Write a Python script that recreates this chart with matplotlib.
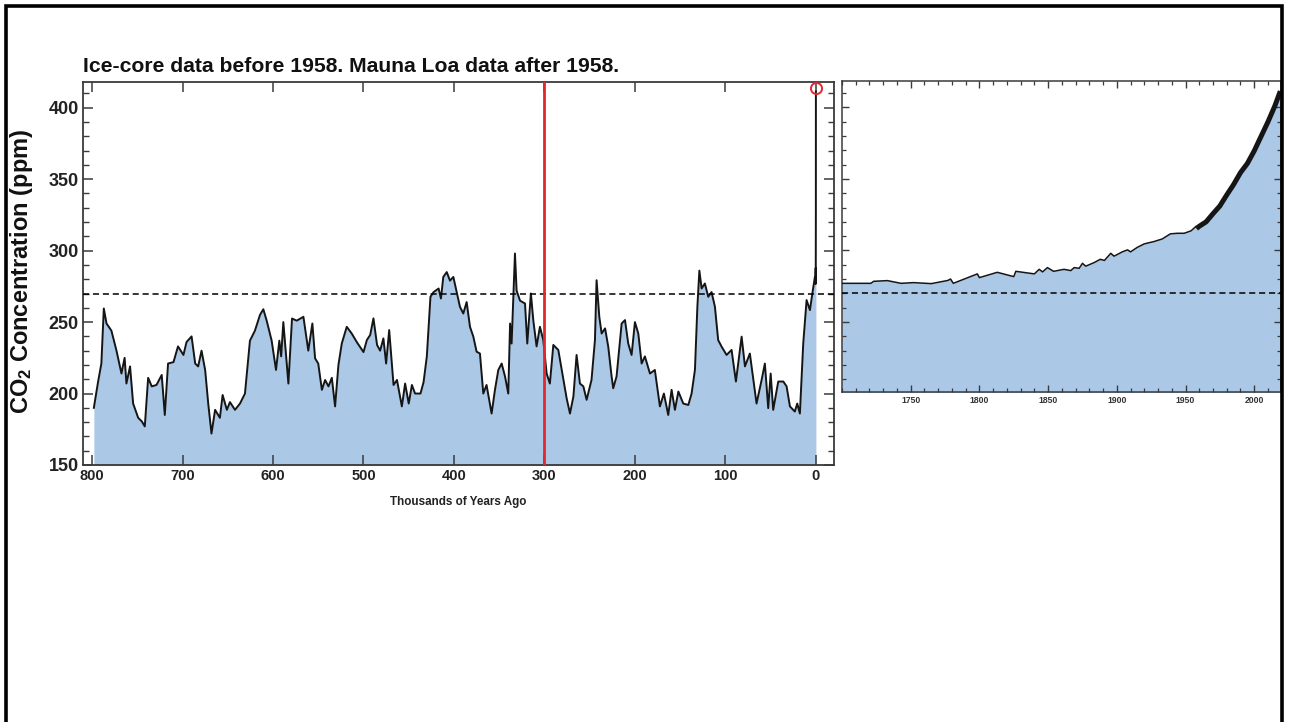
import matplotlib
matplotlib.use("Agg")
import matplotlib.pyplot as plt
from matplotlib.ticker import MultipleLocator, FixedLocator
from matplotlib.patches import Rectangle

plt.rcParams['font.family'] = ['Liberation Sans', 'DejaVu Sans']
plt.rcParams['mathtext.fontset'] = 'custom'
plt.rcParams['mathtext.rm'] = 'Liberation Sans:bold'
plt.rcParams['mathtext.it'] = 'Liberation Sans:bold'
plt.rcParams['mathtext.bf'] = 'Liberation Sans:bold'

# ---------------- data ----------------
# Ice-core record: thousands of years ago, CO2 ppm
ice_kyr = [798, 793.4, 789.7, 787, 784, 778.6, 773, 767.5, 764, 762, 758, 754.6, 749, 745, 741.7,
           738, 734, 728.8, 723, 719.6, 716, 710, 705, 699, 695.6, 690, 686, 682.7, 679, 675,
           671.6, 668, 664, 658.7, 655.7, 651, 647.6, 642, 636.5, 631, 625.5, 620, 614.4, 610.7,
           607, 601.5, 596.7, 593, 591, 588.6, 583, 579, 573.8, 566.4, 561, 556.5, 553.5, 550,
           546, 542.4, 538.7, 535, 531.4, 527.7, 524, 518.5, 513, 507.4, 500, 496.3, 492.6, 489,
           485, 481.6, 478, 475, 471.6, 466.8, 463, 457.6, 454, 450, 446.5, 443, 437, 433.6, 430,
           426, 422.5, 417, 414.4, 411.8, 408, 404.4, 400.7, 397, 393.4, 389.7, 386, 382.3, 378.6,
           375, 371.3, 367.6, 364, 358.4, 354.7, 351, 347.3, 343.6, 340, 338, 336.3, 332.6, 330.8,
           327, 321.5, 319, 315, 312.3, 308.7, 305, 301.3, 297.6, 294, 290.2, 284.7, 279, 275.5,
           271.8, 268, 264.5, 260.8, 257, 253.4, 248, 244.2, 242.4, 239.4, 236.8, 233, 229.5,
           225.8, 224, 220.3, 214.7, 211, 207.4, 203.7, 200, 196.3, 192.6, 189, 183.4, 178,
           172.4, 168, 163.2, 159.5, 155.8, 152, 146.6, 141, 137.4, 133.7, 131, 128.8, 126.3,
           122.7, 119, 115.3, 111.6, 108, 104.2, 98.7, 93.2, 88.4, 82.1, 78.4, 73, 65.6, 60,
           56.4, 52.7, 50, 47.2, 41.6, 36, 32.4, 28.7, 23.3, 20.6, 17.7, 14, 10.3, 6.6, 3.7, 1.1]
ice_ppm = [190, 208, 221, 259.5, 249, 244, 230, 214, 225, 207, 219, 193, 183, 180.5, 177,
           211, 205, 206, 213, 185, 221, 222, 233, 227, 236, 240, 221, 219, 230, 216.5,
           193, 172, 188.6, 183, 199, 188.6, 194, 188.6, 193, 200, 237, 244, 255, 259,
           251, 237, 216.5, 237, 226, 250, 207, 252.5, 251, 253.7, 230, 249, 224.6, 221,
           202.6, 209.5, 205, 211, 191, 220, 235, 246.7, 242, 236, 229, 237.4, 241, 252.6,
           234, 230, 238.6, 221, 244.4, 206, 209.5, 191, 207, 193, 206, 200, 200, 208, 226,
           267.7, 271, 273.5, 266.5, 281.6, 285, 279, 281.6, 271, 260.7, 256, 264, 246.7, 239.8,
           229.3, 228, 200, 206, 186, 202.6, 216.5, 221, 212, 200, 249, 235, 298, 272,
           265, 263, 235, 270, 251, 233, 246.7, 237.4, 214, 207, 234, 230.5, 209.5, 196.7,
           186, 198, 227, 207, 205, 195.6, 209.5, 237.4, 279.3, 253.7, 242, 245.6, 232.8,
           212, 203.7, 212, 249, 251.4, 235, 227, 250, 242, 221, 226, 214, 216.5,
           191, 200, 185, 202.6, 188.6, 201.4, 193, 192, 200, 216.5, 260.7, 286, 273.5,
           277, 267.7, 271, 260.7, 237.4, 232.8, 227, 230.5, 208.4, 239.8, 219, 228, 193, 209.5,
           221, 189.8, 214, 188.6, 208.4, 208.4, 205, 191, 187.4, 193, 186, 235, 265.4, 258.4, 271, 281.6]

# Historical ice-core (AD years) and Mauna Loa (from 1958), CO2 ppm
hist_year = [1700, 1721, 1723, 1733, 1743, 1752, 1765, 1777, 1779, 1781, 1789, 1798.5, 1800,
             1813, 1825, 1826.5, 1840, 1843.5, 1846, 1849.5, 1854, 1861.6, 1866.5, 1869, 1872.6,
             1875, 1877.4, 1883.5, 1888, 1891, 1895.6, 1898, 1904, 1907.8, 1910, 1915, 1920,
             1927, 1933, 1939, 1944, 1949, 1954, 1957.5]
hist_ppm = [277, 277, 278.4, 278.9, 277, 277.5, 276.8, 279, 280, 277, 280, 283.6, 281,
            284.7, 281.7, 285.4, 283.6, 286.8, 285, 288, 285.4, 286.8, 285.9, 288, 287.5,
            291, 289, 291.5, 293.8, 293, 298, 296, 299, 300.4, 299, 302.2, 304.6,
            306.2, 308, 311.6, 312, 312, 313.7, 316.7]
mlo_year = [1958, 1960, 1965, 1970, 1975, 1980, 1985, 1990, 1995, 2000, 2005, 2010, 2015, 2019]
mlo_ppm = [315.3, 316.9, 320.0, 325.7, 331.1, 338.8, 346.1, 354.4, 360.8, 369.6, 379.8, 389.9, 401.0, 411.4]

baseline_ppm = 270
red_line_kyr = 300
circle_kyr, circle_ppm = 0, 414
present_year = 2019

title = "Ice-core data before 1958. Mauna Loa data after 1958."
ylabel = r"CO$_{2}$ Concentration (ppm)"
xlabel = "Thousands of Years Ago"

# ---------------- figure ----------------
W, H = 1289, 722
fig = plt.figure(figsize=(W / 100, H / 100), dpi=100)
fig.patch.set_facecolor('white')

fill_col = '#abc8e7'
line_col = '#151515'
spine_col = '#3a3a3a'

def ax_rect(l, t, r, b):
    return [l / W, 1 - b / H, (r - l) / W, (b - t) / H]

ax1 = fig.add_axes(ax_rect(83, 82, 834, 465))
ax2 = fig.add_axes(ax_rect(842, 81, 1281, 392))

# left panel: ice core + modern spike
mod_year = hist_year + mlo_year
mod_ppm = hist_ppm + mlo_ppm
all_kyr = ice_kyr + [(present_year - y) / 1000.0 for y in mod_year]
all_ppm = ice_ppm + mod_ppm

ax1.fill_between(all_kyr, all_ppm, 100, color=fill_col, lw=0, zorder=1)
ax1.plot(all_kyr, all_ppm, color=line_col, lw=1.4, zorder=3)
ax1.axhline(baseline_ppm, color='black', lw=1.1, ls=(0, (4, 2.5)), zorder=4)
ax1.axvline(red_line_kyr, color='#e2282c', lw=2.0, zorder=5)
ax1.plot([circle_kyr], [circle_ppm], 'o', mfc='none', mec='#e2282c', ms=8, mew=1.4, zorder=6,
         clip_on=False)

ax1.set_xlim(810, -20)
ax1.set_ylim(150, 418)
ax1.xaxis.set_major_locator(MultipleLocator(100))
ax1.yaxis.set_major_locator(MultipleLocator(50))
ax1.yaxis.set_minor_locator(MultipleLocator(10))
ax1.tick_params(axis='both', which='both', direction='in', top=True, right=True, color=spine_col)
ax1.tick_params(axis='both', which='major', length=7, width=1.1)
ax1.tick_params(axis='both', which='minor', length=4.5, width=1.0)
ax1.tick_params(axis='y', labelsize=13, pad=3)
ax1.tick_params(axis='x', labelsize=10.5, pad=3)
for lab in ax1.get_xticklabels() + ax1.get_yticklabels():
    lab.set_fontweight('bold')
    lab.set_color('#222222')
for s in ax1.spines.values():
    s.set_color(spine_col)
    s.set_linewidth(1.3)
ax1.set_title(title, loc='left', fontsize=15.2, fontweight='bold', pad=7, color='#111111')
ax1.set_xlabel(xlabel, fontsize=8.4, fontweight='bold', labelpad=9, color='#222222')
fig.text(22 / W, 1 - 271 / H, ylabel, rotation=90, ha='center', va='center',
         fontsize=17, fontweight='bold', color='#111111')

# right panel: last ~300 years
r_year = hist_year + mlo_year
r_ppm = hist_ppm + mlo_ppm
ax2.fill_between(r_year, r_ppm, 150, color=fill_col, lw=0, zorder=1)
ax2.plot(hist_year, hist_ppm, color=line_col, lw=1.1, zorder=3)
ax2.plot(mlo_year, mlo_ppm, color=line_col, lw=3.6, zorder=3, solid_capstyle='butt')
ax2.axhline(baseline_ppm, color='black', lw=1.1, ls=(0, (4, 2.5)), zorder=4)
ax2.set_xlim(1700, 2019.5)
ax2.set_ylim(201, 418.5)
ax2.xaxis.set_major_locator(FixedLocator([1750, 1800, 1850, 1900, 1950, 2000]))
ax2.xaxis.set_minor_locator(MultipleLocator(10))
ax2.yaxis.set_major_locator(MultipleLocator(50))
ax2.yaxis.set_minor_locator(MultipleLocator(10))
ax2.tick_params(axis='both', which='both', direction='in', top=True, right=True, color=spine_col)
ax2.tick_params(axis='both', which='major', length=5, width=1.0)
ax2.tick_params(axis='both', which='minor', length=3, width=0.9)
ax2.tick_params(axis='x', labelsize=6.2, pad=3)
ax2.tick_params(axis='y', labelleft=False)
for lab in ax2.get_xticklabels():
    lab.set_fontweight('bold')
    lab.set_color('#333333')
for s in ax2.spines.values():
    s.set_color(spine_col)
    s.set_linewidth(1.1)

# outer frame
fig.patches.append(Rectangle((6 / W, -0.05), (1282 - 6) / W, 1.05 - 6 / H,
                             transform=fig.transFigure, fill=False, edgecolor='black',
                             lw=2.6, zorder=10))

fig.savefig('out.png', dpi=100)
